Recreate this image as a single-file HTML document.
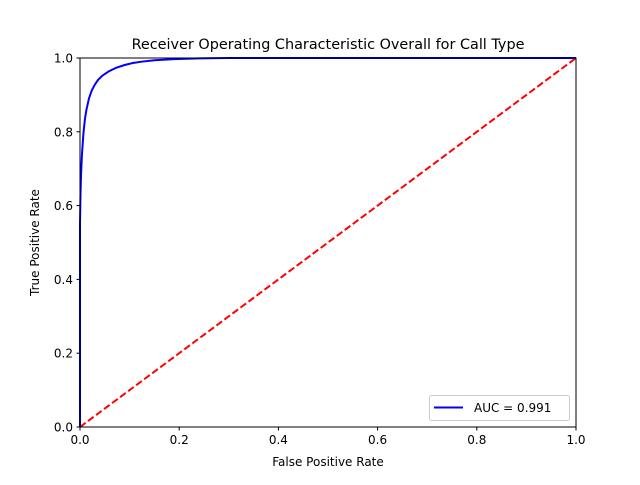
<!DOCTYPE html>
<html><head><meta charset="utf-8"><style>
body{margin:0;background:#fff}
svg text{font-family:"DejaVu Sans","Liberation Sans",sans-serif;fill:#000}
</style></head><body>
<svg id="chart" width="640" height="480" viewBox="0 0 640 480" xmlns="http://www.w3.org/2000/svg">
<rect width="640" height="480" fill="#fff"/>
<g id="plot"></g>
<text x="328" y="49" font-size="14.4" text-anchor="middle">Receiver Operating Characteristic Overall for Call Type</text>
<text x="328" y="466" font-size="12" text-anchor="middle">False Positive Rate</text>
<text transform="translate(39,242.5) rotate(-90)" font-size="12" text-anchor="middle">True Positive Rate</text>
<g>
<rect x="429.5" y="395.5" width="140" height="25" rx="2" fill="#fff" fill-opacity="0.8" stroke="#ccc"/>
<line x1="434" y1="407.5" x2="463" y2="407.5" stroke="#0000ff" stroke-width="2"/>
<text x="474" y="412" font-size="12">AUC = 0.991</text>
</g>
</svg>
<script>
const fpr=[0,0,0.001,0.002,0.004,0.007,0.01,0.013,0.018,0.024,0.03,0.036,0.045,0.057,0.072,0.09,0.105,0.124,0.15,0.19,0.24,0.3,1];
const tpr=[0,0.55,0.63,0.68,0.74,0.797,0.835,0.86,0.89,0.913,0.928,0.94,0.952,0.963,0.973,0.981,0.986,0.99,0.994,0.997,0.999,1,1];
const ticks=[0,0.2,0.4,0.6,0.8,1];
const tickLabels=["0.0","0.2","0.4","0.6","0.8","1.0"];
const L=80,R=576,T=58,B=427;
const sx=v=>L+v*(R-L), sy=v=>B-v*(B-T);
const ns="http://www.w3.org/2000/svg";
const g=document.getElementById('plot');
function mk(t,a,p){const e=document.createElementNS(ns,t);for(const k in a)e.setAttribute(k,a[k]);(p||g).appendChild(e);return e;}
const diag=mk('line',{x1:sx(0),y1:sy(0),x2:sx(1),y2:sy(1),stroke:'#ff0000','stroke-width':2,'stroke-dasharray':'7,3'});


const roc=mk('polyline',{points:fpr.map((v,i)=>sx(v)+','+sy(tpr[i])).join(' '),fill:'none',stroke:'#0000ff','stroke-width':2,'stroke-linejoin':'round'});


const frame=mk('rect',{x:L,y:T,width:R-L,height:B-T,fill:'none',stroke:'#000','stroke-width':1});


ticks.forEach((v,i)=>{
 const x=sx(v),y=sy(v);
 mk('line',{x1:x,y1:B,x2:x,y2:B+3.5,stroke:'#000'});
 const tx=mk('text',{x:x,y:B+17,'font-size':12,'text-anchor':'middle'});tx.textContent=tickLabels[i];
 
 
 mk('line',{x1:L-3.5,y1:y,x2:L,y2:y,stroke:'#000'});
 const ty=mk('text',{x:L-7,y:y+4.5,'font-size':12,'text-anchor':'end'});ty.textContent=tickLabels[i];
 
 
});
</script>
</body></html>
